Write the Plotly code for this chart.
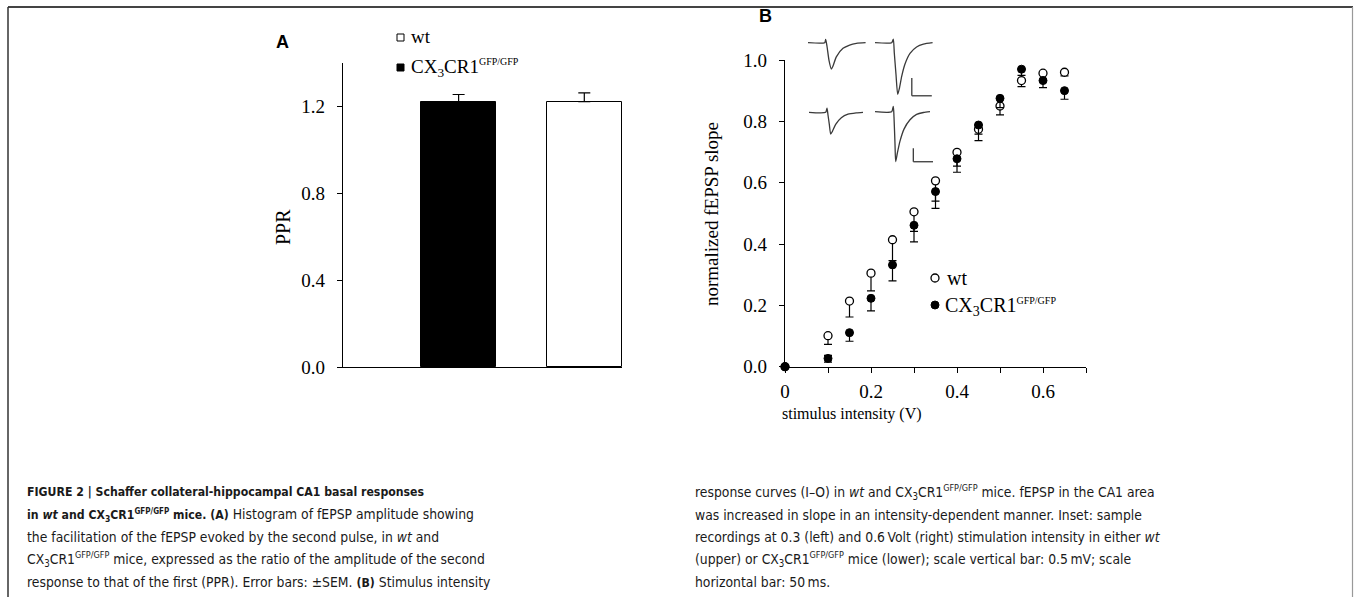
import plotly.graph_objects as go

W, H = 1354, 597

# ---------------- data ----------------
# Panel A: paired-pulse ratio
groups = ["CX3CR1 GFP/GFP", "wt"]
ppr_mean = [1.220, 1.222]
ppr_sem = [0.035, 0.040]

# Panel B: input-output curves
intensity = [0, 0.1, 0.15, 0.2, 0.25, 0.3, 0.35, 0.4, 0.45, 0.5, 0.55, 0.6, 0.65]
wt_mean = [0, 0.101, 0.214, 0.305, 0.414, 0.505, 0.606, 0.699, 0.774, 0.850, 0.933, 0.957, 0.960]
wt_sem = [0, 0.028, 0.052, 0.058, 0.068, 0.064, 0.066, 0.045, 0.037, 0.029, 0.020, 0.020, 0.012]
cx_mean = [0, 0.027, 0.111, 0.223, 0.332, 0.461, 0.571, 0.678, 0.788, 0.875, 0.970, 0.933, 0.900]
cx_sem = [0, 0.012, 0.028, 0.041, 0.052, 0.054, 0.055, 0.044, 0.030, 0.030, 0.020, 0.023, 0.028]
cx_sem_up = [0, 0.010, 0, 0, 0, 0, 0, 0, 0, 0, 0, 0, 0]

# Inset sample recordings (time in ms, amplitude in mV)
wt_03_t = [0, 41.7, 44.2, 47.5, 52.5, 58.3, 62.5, 70.8, 87.5, 104, 121, 144]
wt_03_v = [0, 0, 0.094, -0.10, -0.50, -0.744, -0.66, -0.40, -0.16, -0.066, -0.019, 0]
wt_06_t = [0, 41.7, 45.8, 48.3, 52.5, 56.7, 60.8, 66.7, 75, 87.5, 104, 121, 144]
wt_06_v = [0, 0, 0.10, -0.30, -0.90, -1.46, -1.30, -0.95, -0.60, -0.30, -0.12, -0.04, 0]
cx_03_t = [0, 41.7, 45, 47.5, 50.8, 54.2, 58.3, 66.7, 80.8, 97.5, 118, 135]
cx_03_v = [0, 0, 0.15, -0.10, -0.45, -0.81, -0.72, -0.45, -0.20, -0.07, -0.02, 0]
cx_06_t = [0, 41.7, 45.8, 47.5, 50, 51.7, 55.8, 62.5, 72.5, 87.5, 104, 121, 137.5]
cx_06_v = [0, 0, 0.20, -0.20, -1.20, -1.86, -1.55, -1.10, -0.65, -0.30, -0.10, -0.03, 0]

# ---------------- helpers ----------------
def fx(p):
    return p / W

def fy(p):
    return 1 - p / H

SERIF = "Liberation Serif, Times New Roman, serif"
NARROW = "DejaVu Sans Condensed, Liberation Sans Narrow, Arial Narrow, sans-serif"
SANS = "Liberation Sans, Arial, sans-serif"

fig = go.Figure()

# ---------------- Panel A ----------------
fig.add_trace(go.Bar(
    x=groups, y=ppr_mean, width=0.6,
    marker=dict(color=["black", "white"], line=dict(color="black", width=1)),
    error_y=dict(type="data", array=ppr_sem, arrayminus=[0, 0], symmetric=False,
                 color="black", thickness=1.2, width=6),
    xaxis="x", yaxis="y", showlegend=False,
))

# ---------------- Panel B ----------------
fig.add_trace(go.Scatter(
    x=intensity, y=wt_mean, mode="markers",
    marker=dict(symbol="circle", size=8, color="white", line=dict(color="black", width=1.3)),
    error_y=dict(type="data", array=[0] * len(wt_sem), arrayminus=wt_sem, symmetric=False,
                 color="black", thickness=1.2, width=4),
    xaxis="x2", yaxis="y2", showlegend=False, cliponaxis=False,
))
fig.add_trace(go.Scatter(
    x=intensity, y=cx_mean, mode="markers",
    marker=dict(symbol="circle", size=8, color="black", line=dict(color="black", width=1)),
    error_y=dict(type="data", array=cx_sem_up, arrayminus=cx_sem, symmetric=False,
                 color="black", thickness=1.2, width=4),
    xaxis="x2", yaxis="y2", showlegend=False, cliponaxis=False,
))

# ---------------- Insets ----------------
inset_specs = [
    (wt_03_t, wt_03_v, "x3", "y3", (808, 866), (35, 100), (-1.619, 0.2175)),
    (wt_06_t, wt_06_v, "x4", "y4", (875, 933), (35, 100), (-1.619, 0.2175)),
    (cx_03_t, cx_03_v, "x5", "y5", (809, 867), (105, 170), (-2.152, 0.272)),
    (cx_06_t, cx_06_v, "x6", "y6", (875, 933), (105, 170), (-2.175, 0.250)),
]
for t, v, xa, ya, xd, yd, yr in inset_specs:
    fig.add_trace(go.Scatter(
        x=t, y=v, mode="lines", line=dict(color="#3a3a3a", width=1.3, shape="spline", smoothing=0.6),
        xaxis=xa, yaxis=ya, showlegend=False, hoverinfo="skip",
    ))

hidden = dict(visible=False, fixedrange=True)
layout_axes = {}
for i, (t, v, xa, ya, xd, yd, yr) in enumerate(inset_specs):
    n = xa[1:]
    layout_axes["xaxis" + n] = dict(domain=[fx(xd[0]), fx(xd[1])], range=[0, 145], anchor="y" + n, **hidden)
    layout_axes["yaxis" + n] = dict(domain=[fy(yd[1]), fy(yd[0])], range=list(yr), anchor="x" + n, **hidden)

shapes = []
# scale bars (0.5 mV vertical, 50 ms horizontal)
for xa, ya, tx, y0 in [("x4", "y4", 92, -1.0), ("x6", "y6", 95.8, -1.367)]:
    shapes.append(dict(type="line", xref=xa, yref=ya, x0=tx, x1=tx, y0=y0, y1=y0 - 0.5,
                       line=dict(color="#3a3a3a", width=1.3)))
    shapes.append(dict(type="line", xref=xa, yref=ya, x0=tx, x1=tx + 50, y0=y0 - 0.5, y1=y0 - 0.5,
                       line=dict(color="#3a3a3a", width=1.3)))

# frame of the figure page
shapes.append(dict(type="line", xref="paper", yref="paper", x0=fx(8), x1=fx(1353), y0=fy(7), y1=fy(7),
                   line=dict(color="#444", width=2)))
shapes.append(dict(type="line", xref="paper", yref="paper", x0=fx(8), x1=fx(8), y0=fy(7), y1=0,
                   line=dict(color="#333", width=1.5)))
shapes.append(dict(type="line", xref="paper", yref="paper", x0=fx(1352.5), x1=fx(1352.5), y0=fy(7), y1=0,
                   line=dict(color="#999", width=1.2)))

# legend symbols
shapes.append(dict(type="rect", xref="paper", yref="paper", x0=fx(397), x1=fx(404), y0=fy(41), y1=fy(34),
                   line=dict(color="black", width=1), fillcolor="white"))
shapes.append(dict(type="rect", xref="paper", yref="paper", x0=fx(397), x1=fx(404), y0=fy(71), y1=fy(64),
                   line=dict(color="black", width=1), fillcolor="black"))
shapes.append(dict(type="circle", xref="paper", yref="paper", x0=fx(931), x1=fx(939), y0=fy(282), y1=fy(274),
                   line=dict(color="black", width=1.3), fillcolor="white"))
shapes.append(dict(type="circle", xref="paper", yref="paper", x0=fx(931), x1=fx(939), y0=fy(309), y1=fy(301),
                   line=dict(color="black", width=1), fillcolor="black"))

CX = "CX<sub>3</sub>CR1<sup><span style='font-size:10px'>GFP/GFP</span></sup>"
CXs = "CX<sub>3</sub>CR1<sup><span style='font-size:9px'>GFP/GFP</span></sup>"

def B(s):
    return "<b><span style='font-size:12.2px'>" + s + "</span></b>"

annotations = []
def note(text, x, y, size, family=SERIF, xanchor="left", yanchor="middle", angle=0, color="black"):
    annotations.append(dict(text=text, x=fx(x), y=fy(y), xref="paper", yref="paper",
                            showarrow=False, xanchor=xanchor, yanchor=yanchor, textangle=angle,
                            borderpad=0, font=dict(size=size, family=family, color=color)))

# panel labels
note("<b>A</b>", 282, 42, 18, family=SANS, xanchor="center")
note("<b>B</b>", 765, 16, 18, family=SANS, xanchor="center")
# legend texts
note("wt", 410, 37, 19)
note(CX, 410, 68, 19)
note("wt", 946, 278, 20)
note(CX, 944, 306, 20)
# axis titles
note("PPR", 283, 227, 20, xanchor="center", angle=-90)
note("normalized fEPSP slope", 712, 214, 19, xanchor="center", angle=-90)
note("stimulus intensity (V)", 852, 414, 16, xanchor="center")

# caption
cap_left = [
    B("FIGURE 2 | Schaffer collateral-hippocampal CA1 basal responses"),
    B("in <i>wt</i> and " + "CX<sub>3</sub>CR1<sup><span style='font-size:8px'>GFP/GFP</span></sup> mice.")
    + " " + B("(A)") + " Histogram of fEPSP amplitude showing",
    "the facilitation of the fEPSP evoked by the second pulse, in <i>wt</i> and",
    CXs + " mice, expressed as the ratio of the amplitude of the second",
    "response to that of the first (PPR). Error bars: \u00b1SEM. " + B("(B)") + " Stimulus intensity",
]
cap_right = [
    "response curves (I\u2013O) in <i>wt</i> and " + CXs + " mice. fEPSP in the CA1 area",
    "was increased in slope in an intensity-dependent manner. Inset: sample",
    "recordings at 0.3 (left) and 0.6\u2009Volt (right) stimulation intensity in either <i>wt</i>",
    "(upper) or " + CXs + " mice (lower); scale vertical bar: 0.5\u2009mV; scale",
    "horizontal bar: 50\u2009ms.",
]
line_y = [492, 514.5, 537, 559.5, 582]
for txt, yy in zip(cap_left, line_y):
    note(txt, 26, yy, 13.8, family=NARROW, color="#1a1a1a")
for txt, yy in zip(cap_right, line_y):
    note(txt, 694, yy, 13.8, family=NARROW, color="#1a1a1a")

tickfont = dict(family=SERIF, size=19, color="black")

fig.update_layout(
    width=W, height=H,
    margin=dict(l=0, r=0, t=0, b=0, autoexpand=False),
    paper_bgcolor="white", plot_bgcolor="rgba(0,0,0,0)",
    showlegend=False,
    bargap=0,
    xaxis=dict(domain=[fx(343), fx(622)], range=[-0.92, 1.30], type="category",
               showline=True, linecolor="black", linewidth=1.2, showticklabels=False,
               ticks="", showgrid=False, zeroline=False, anchor="y", fixedrange=True),
    yaxis=dict(domain=[fy(367), fy(63)], range=[0, 1.4], tickvals=[0, 0.4, 0.8, 1.2],
               tickformat=".1f", ticks="outside", ticklen=5, tickcolor="black",
               showline=True, linecolor="black", linewidth=1.2, showgrid=False, zeroline=False,
               tickfont=tickfont, ticklabelstandoff=8, anchor="x", fixedrange=True),
    xaxis2=dict(domain=[fx(785), fx(1086)], range=[0, 0.7],
                tickvals=[0, 0.1, 0.2, 0.3, 0.4, 0.5, 0.6, 0.7],
                ticktext=["0", "", "0.2", "", "0.4", "", "0.6", ""],
                ticks="outside", ticklen=5, tickcolor="black",
                showline=True, linecolor="black", linewidth=1.2, showgrid=False, zeroline=False,
                tickfont=tickfont, ticklabelstandoff=2, anchor="y2", fixedrange=True),
    yaxis2=dict(domain=[fy(366.7), fy(60)], range=[0, 1.0], dtick=0.2, tickformat=".1f",
                ticks="outside", ticklen=5, tickcolor="black",
                showline=True, linecolor="black", linewidth=1.2, showgrid=False, zeroline=False,
                tickfont=tickfont, ticklabelstandoff=8, anchor="x2", fixedrange=True),
    shapes=shapes,
    annotations=annotations,
    **layout_axes,
)

fig.write_html(
    "out.html",
    config={"displayModeBar": False},
    post_script="document.body.style.margin='0px';document.body.style.padding='0px';"
                "document.documentElement.style.overflow='hidden';",
)
